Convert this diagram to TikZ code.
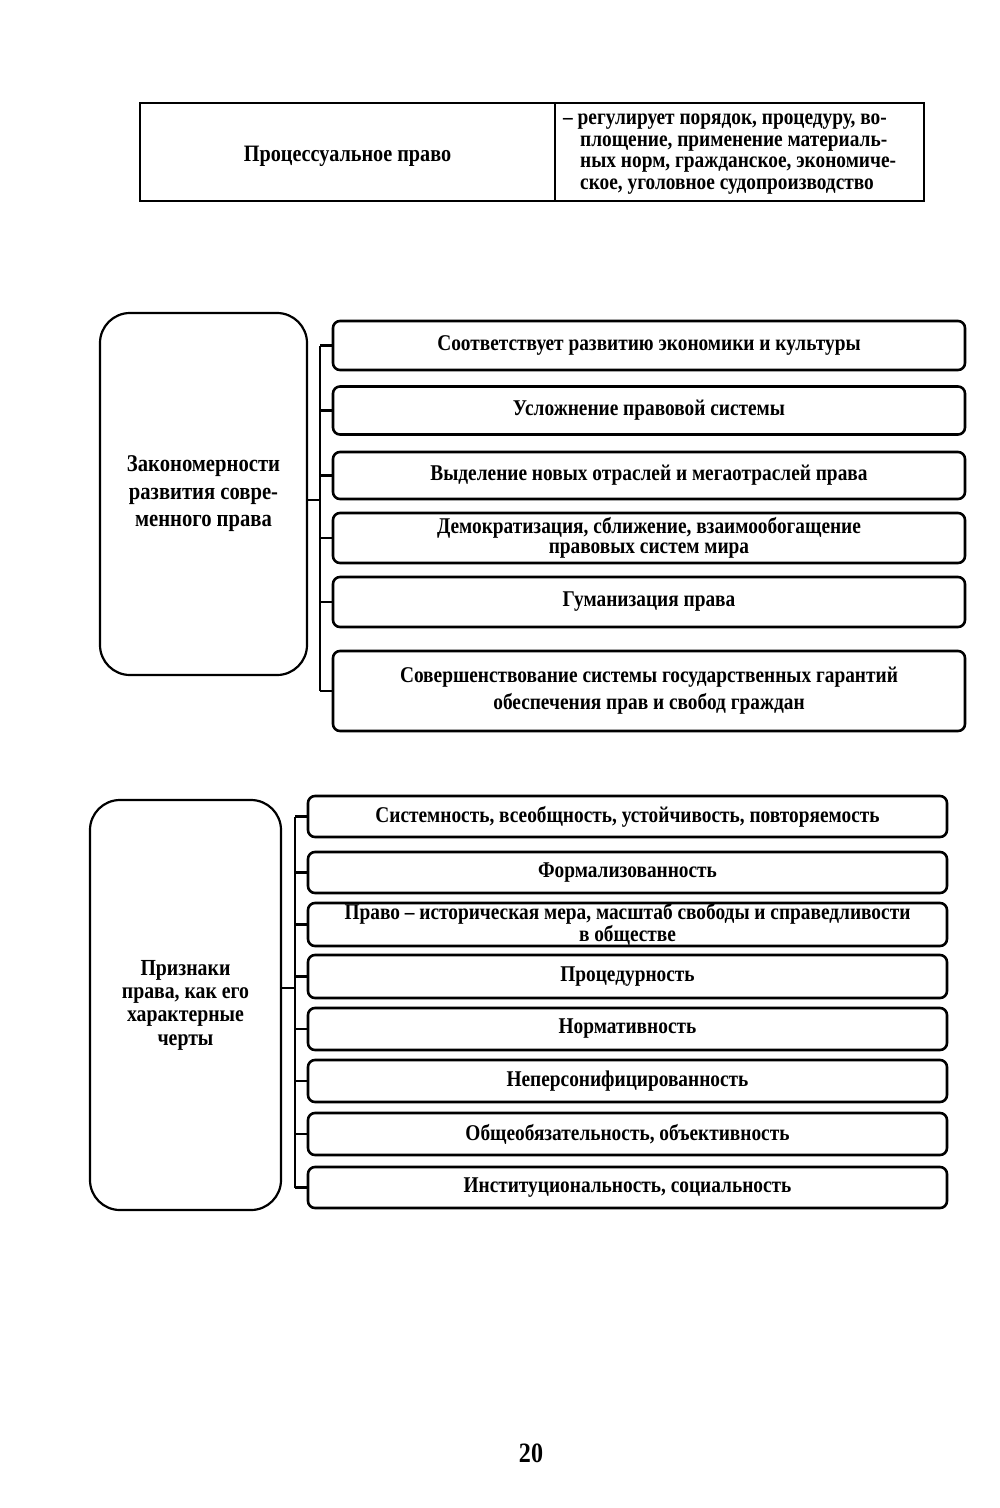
\documentclass[tikz,border=0pt]{standalone}
\usepackage{fontspec}
\setmainfont{Liberation Serif}[FakeStretch=0.86]
\begin{document}
\begin{tikzpicture}[x=1pt,y=-1pt,
  every node/.style={font=\bfseries\fontsize{22.5}{20}\selectfont, inner sep=0pt},
  item/.style={draw, line width=2.6pt, rounded corners=7pt, align=center},
  bigbox/.style={draw, line width=2.2pt, rounded corners=30pt, align=center},
  cell/.style={draw, line width=1.8pt, align=center},
  link/.style={line width=2.8pt}]
\useasboundingbox[fill=white] (0,0) rectangle (1000,1508);

% top table
\node[cell, minimum width=415pt, minimum height=98pt] (p) at (347.5,152) {};
\node[font=\bfseries\fontsize{23.5}{24}\selectfont] (pl) at (347.5,156) {Процессуальное право};
\node[cell, minimum width=369pt, minimum height=98pt] (pd) at (739.5,152) {};
\node[align=left, anchor=west, font=\bfseries\fontsize{22.5}{21.7}\selectfont] (pt) at (563,154)
 {– регулирует порядок, процедуру, во-\\
  \hspace*{17pt}площение, применение материаль-\\
  \hspace*{17pt}ных норм, гражданское, экономиче-\\
  \hspace*{17pt}ское, уголовное судопроизводство};

% section 2
\node[bigbox, minimum width=207pt, minimum height=362pt,
      font=\bfseries\fontsize{24}{27.5}\selectfont] (L1) at (203.5,494)
 {Закономерности\\развития совре-\\менного права};
\node[item, minimum width=632pt, minimum height=49pt] (a1) at (649,345.5) {Соответствует развитию экономики и культуры};
\node[item, minimum width=632pt, minimum height=48pt] (a2) at (649,410.5) {Усложнение правовой системы};
\node[item, minimum width=632pt, minimum height=47pt] (a3) at (649,475.5) {Выделение новых отраслей и мегаотраслей права};
\node[item, minimum width=632pt, minimum height=50pt] (a4) at (649,538) {Демократизация, сближение, взаимообогащение\\правовых систем мира};
\node[item, minimum width=632pt, minimum height=50pt] (a5) at (649,602) {Гуманизация права};
\node[item, minimum width=632pt, minimum height=80pt, font=\bfseries\fontsize{22.5}{27}\selectfont] (a6) at (649,691) {Совершенствование системы государственных гарантий\\обеспечения прав и свобод граждан};
\coordinate (j1) at (320,500);
\draw[link] (L1.east |- j1) -- (j1);
\draw[link] (a1.west -| j1) -- (a6.west -| j1);
\foreach \n in {a1,a2,a3,a4,a5,a6} \draw[link] (\n.west -| j1) -- (\n.west);

% section 3
\node[bigbox, minimum width=191pt, minimum height=410pt,
      font=\bfseries\fontsize{23}{23.3}\selectfont] (L2) at (185.5,1005)
 {Признаки\\права, как его\\характерные\\черты};
\node[item, minimum width=639pt, minimum height=41pt] (b1) at (627.5,816.5) {Системность, всеобщность, устойчивость, повторяемость};
\node[item, minimum width=639pt, minimum height=41pt] (b2) at (627.5,872.5) {Формализованность};
\node[item, minimum width=639pt, minimum height=43pt] (b3) at (627.5,924.5) {Право – историческая мера, масштаб свободы и справедливости\\в обществе};
\node[item, minimum width=639pt, minimum height=43pt] (b4) at (627.5,976.5) {Процедурность};
\node[item, minimum width=639pt, minimum height=42pt] (b5) at (627.5,1029) {Нормативность};
\node[item, minimum width=639pt, minimum height=42pt] (b6) at (627.5,1081) {Неперсонифицированность};
\node[item, minimum width=639pt, minimum height=42pt] (b7) at (627.5,1134) {Общеобязательность, объективность};
\node[item, minimum width=639pt, minimum height=41pt] (b8) at (627.5,1187.5) {Институциональность, социальность};
\coordinate (j2) at (295,988);
\draw[link] (L2.east |- j2) -- (j2);
\draw[link] (b1.west -| j2) -- (b8.west -| j2);
\foreach \n in {b1,b2,b3,b4,b5,b6,b7,b8} \draw[link] (\n.west -| j2) -- (\n.west);

\node[font=\bfseries\fontsize{28}{30}\selectfont] (pg) at (531,1453) {20};
\end{tikzpicture}
\end{document}
